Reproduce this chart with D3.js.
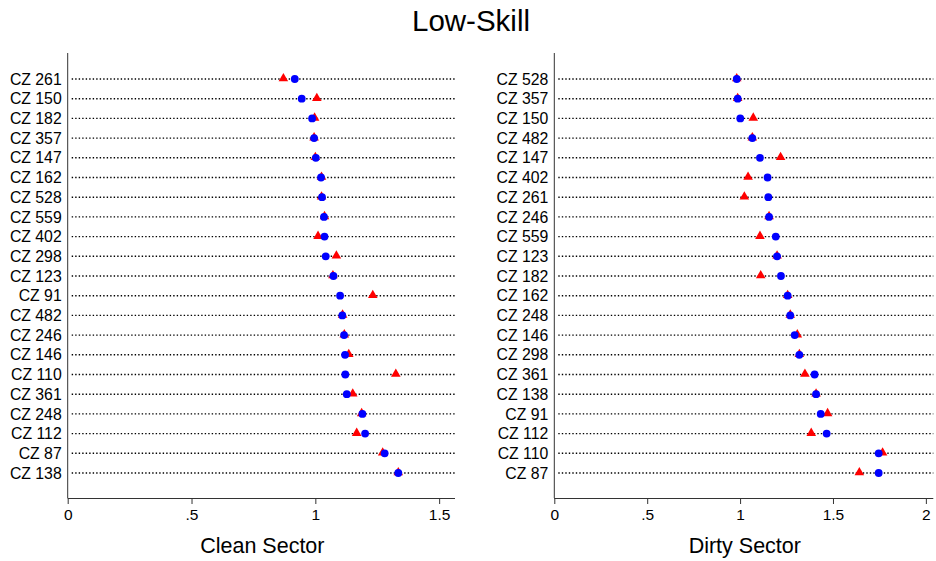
<!DOCTYPE html>
<html>
<head>
<meta charset="utf-8">
<script src="https://cdn.jsdelivr.net/npm/d3@7"></script>
<style>
  html, body { margin: 0; padding: 0; background: #fff; }
  svg { display: block; font-family: "Liberation Sans", Arial, sans-serif; }
</style>
</head>
<body>
<svg id="chart" width="936" height="561"></svg>
<script>
// Commuting zones, listed top to bottom in each panel
const cleanZones = ["CZ 261","CZ 150","CZ 182","CZ 357","CZ 147","CZ 162","CZ 528","CZ 559","CZ 402","CZ 298","CZ 123","CZ 91","CZ 482","CZ 246","CZ 146","CZ 110","CZ 361","CZ 248","CZ 112","CZ 87","CZ 138"];
const cleanCircle = [0.917,0.945,0.987,0.995,1.002,1.023,1.027,1.035,1.037,1.042,1.073,1.100,1.109,1.116,1.120,1.121,1.127,1.190,1.201,1.280,1.335];
const cleanTriangle = [0.871,1.006,0.997,0.995,1.000,1.025,1.025,1.037,1.011,1.085,1.071,1.232,1.110,1.117,1.135,1.325,1.151,1.187,1.167,1.272,1.335];

const dirtyZones = ["CZ 528","CZ 357","CZ 150","CZ 482","CZ 147","CZ 402","CZ 261","CZ 246","CZ 559","CZ 123","CZ 182","CZ 162","CZ 248","CZ 146","CZ 298","CZ 361","CZ 138","CZ 91","CZ 112","CZ 110","CZ 87"];
const dirtyCircle = [0.982,0.987,1.001,1.066,1.107,1.148,1.152,1.156,1.192,1.199,1.220,1.256,1.270,1.294,1.319,1.401,1.409,1.434,1.466,1.746,1.746];
const dirtyTriangle = [0.982,0.987,1.071,1.066,1.218,1.043,1.023,1.156,1.107,1.199,1.111,1.256,1.270,1.308,1.319,1.349,1.409,1.471,1.383,1.767,1.642];

const cleanTicks = [0, 0.5, 1, 1.5];
const dirtyTicks = [0, 0.5, 1, 1.5, 2];
const tickFormat = v => v === 0 ? "0" : (v % 1 === 0 ? String(v) : String(v).replace(/^0/, ""));

const svg = d3.select("#chart");

svg.append("text")
  .attr("x", 471).attr("y", 31)
  .attr("text-anchor", "middle")
  .attr("font-size", 29.5)
  .attr("fill", "#000")
  .text("Low-Skill");

function panel(opts) {
  const { zones, circles, triangles, ticks, xMax, left, right, title } = opts;
  const top = 53, bottom = 498;
  const g = svg.append("g");

  const x = d3.scaleLinear().domain([0, xMax]).range([left, right]);
  const y = d3.scalePoint().domain(zones).range([79, 473]);

  // dotted guide lines for each zone
  g.selectAll("line.guide").data(zones).join("line")
    .attr("class", "guide")
    .attr("x1", left + 4).attr("x2", right)
    .attr("y1", d => y(d)).attr("y2", d => y(d))
    .attr("stroke", "#000")
    .attr("stroke-width", 1.4)
    .attr("stroke-dasharray", "1.4 2.1");

  // vertical axis line and zone labels
  g.append("line")
    .attr("x1", left).attr("x2", left)
    .attr("y1", top).attr("y2", bottom)
    .attr("stroke", "#333").attr("stroke-width", 1);

  g.selectAll("text.zone").data(zones).join("text")
    .attr("class", "zone")
    .attr("x", left - 6)
    .attr("y", d => y(d))
    .attr("dy", "0.36em")
    .attr("text-anchor", "end")
    .attr("font-size", 15.8)
    .attr("fill", "#000")
    .text(d => d);

  // horizontal axis
  const axis = d3.axisBottom(x).tickValues(ticks).tickFormat(tickFormat).tickSize(6).tickPadding(5);
  const ax = g.append("g").attr("transform", `translate(0,${bottom})`).call(axis);
  ax.select(".domain").attr("stroke", "#333").attr("d", `M${left},0.5H${right}`);
  ax.selectAll(".tick line").attr("stroke", "#333");
  ax.selectAll(".tick text")
    .attr("font-size", 15.5)
    .attr("font-family", "Liberation Sans, Arial, sans-serif")
    .attr("fill", "#000");

  g.append("text")
    .attr("x", (left + right) / 2 + 1)
    .attr("y", 553)
    .attr("text-anchor", "middle")
    .attr("font-size", 21.5)
    .attr("fill", "#000")
    .text(title);

  // red triangles first, blue circles on top
  const tri = d3.symbol().type(d3.symbolTriangle).size(40);
  g.selectAll("path.tri").data(zones).join("path")
    .attr("class", "tri")
    .attr("d", tri)
    .attr("transform", (d, i) => `translate(${x(triangles[i])},${y(d) - 0.5})`)
    .attr("fill", "#ff0000");

  g.selectAll("circle.pt").data(zones).join("circle")
    .attr("class", "pt")
    .attr("cx", (d, i) => x(circles[i]))
    .attr("cy", d => y(d))
    .attr("r", 3.9)
    .attr("fill", "#0000ff");
}

panel({
  zones: cleanZones, circles: cleanCircle, triangles: cleanTriangle,
  ticks: cleanTicks, xMax: 1.564, left: 67.7, right: 455, title: "Clean Sector"
});

panel({
  zones: dirtyZones, circles: dirtyCircle, triangles: dirtyTriangle,
  ticks: dirtyTicks, xMax: 2.04, left: 554.3, right: 933.3, title: "Dirty Sector"
});
</script>
</body>
</html>
